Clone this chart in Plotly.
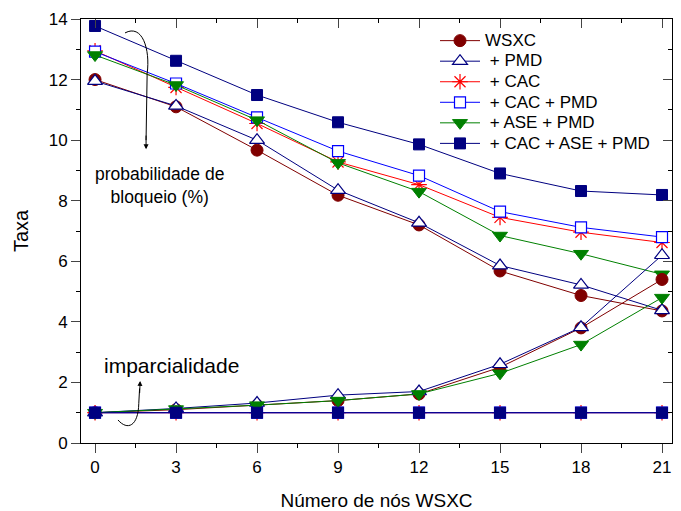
import plotly.graph_objects as go

x = [0, 3, 6, 9, 12, 15, 18, 21]
names = ["WSXC", "\u00a0+ PMD", "\u00a0+ CAC", "\u00a0+ CAC + PMD", "\u00a0+ ASE + PMD", "\u00a0+ CAC + ASE + PMD"]

# probabilidade de bloqueio (%)
bloq_wsxc = [12.0, 11.1, 9.67, 8.18, 7.2, 5.68, 4.87, 4.36]
bloq_pmd = [11.95, 11.13, 10.0, 8.35, 7.27, 5.86, 5.22, 4.38]
bloq_cac = [12.95, 11.74, 10.55, 9.28, 8.53, 7.45, 6.96, 6.62]
bloq_cac_pmd = [12.92, 11.87, 10.75, 9.64, 8.83, 7.64, 7.12, 6.8]
bloq_ase_pmd = [12.81, 11.82, 10.66, 9.25, 8.3, 6.85, 6.25, 5.57]
bloq_cac_ase_pmd = [13.77, 12.62, 11.49, 10.59, 9.86, 8.9, 8.32, 8.19]

# imparcialidade
imp_wsxc = [1.0, 1.1, 1.25, 1.4, 1.62, 2.5, 3.8, 5.4]
imp_pmd = [1.0, 1.14, 1.32, 1.58, 1.7, 2.6, 3.82, 6.2]
imp_cac = [1.0, 1.0, 1.0, 1.0, 1.0, 1.0, 1.0, 1.0]
imp_cac_pmd = [1.0, 1.0, 1.0, 1.0, 1.0, 1.0, 1.0, 1.0]
imp_ase_pmd = [1.0, 1.12, 1.25, 1.4, 1.62, 2.3, 3.25, 4.8]
imp_cac_ase_pmd = [1.0, 1.0, 1.0, 1.0, 1.0, 1.0, 1.0, 1.0]

y_ticks = [0, 2, 4, 6, 8, 10, 12, 14]

bloq = [bloq_wsxc, bloq_pmd, bloq_cac, bloq_cac_pmd, bloq_ase_pmd, bloq_cac_ase_pmd]
imp = [imp_wsxc, imp_pmd, imp_cac, imp_cac_pmd, imp_ase_pmd, imp_cac_ase_pmd]

styles = [
    dict(color="#800000", marker=dict(symbol="circle", size=12, color="#800000", line=dict(color="#800000", width=1))),
    dict(color="#000080", marker=dict(symbol="triangle-up", size=13, color="white", line=dict(color="#000080", width=1.2))),
    dict(color="#FF0000", marker=dict(symbol="asterisk-open", size=13, color="#FF0000", line=dict(color="#FF0000", width=1.2))),
    dict(color="#0000FF", marker=dict(symbol="square", size=11, color="white", line=dict(color="#0000FF", width=1.2))),
    dict(color="#008000", marker=dict(symbol="triangle-down", size=13, color="#008000", line=dict(color="#008000", width=1))),
    dict(color="#000080", marker=dict(symbol="square", size=11, color="#000080", line=dict(color="#000080", width=1))),
]

fig = go.Figure()
for i, nm in enumerate(names):
    st = styles[i]
    fig.add_trace(go.Scatter(x=x, y=bloq[i], name='<span style="font-size:17px">' + nm + '</span>',
                             mode="lines+markers", legendgroup=str(i),
                             line=dict(color=st["color"], width=1), marker=st["marker"]))
for i, nm in enumerate(names):
    st = styles[i]
    fig.add_trace(go.Scatter(x=x, y=imp[i], name=nm, mode="lines+markers", legendgroup=str(i), showlegend=False,
                             xaxis="x2", yaxis="y2",
                             line=dict(color=st["color"], width=1), marker=st["marker"]))

font = "Liberation Sans, Arial, sans-serif"
xr = [-0.52, 21.37]
yr = [0, 14]

fig.update_layout(
    width=673, height=503,
    margin=dict(l=73, r=9, t=11, b=68, autoexpand=False),
    paper_bgcolor="white", plot_bgcolor="white",
    font=dict(family=font, size=17, color="black"),
    showlegend=True,
    legend=dict(x=0.599, y=0.985, xanchor="left", yanchor="top", bgcolor="rgba(0,0,0,0)",
                font=dict(size=13.5, family=font), tracegroupgap=0, itemwidth=40),
    xaxis=dict(range=xr, tickvals=x, ticks="outside", ticklen=9, tickwidth=1, showgrid=False, zeroline=False,
               showline=True, linecolor="black", linewidth=1, tickfont=dict(size=17), automargin=False,
               minor=dict(ticks="outside", dtick=1.5, tick0=0, ticklen=4, tickcolor="black"),
               title=dict(text="Número de nós WSXC", font=dict(size=19), standoff=20)),
    yaxis=dict(range=yr, tickvals=y_ticks, ticks="outside", ticklen=9, tickwidth=1,
               showgrid=False, zeroline=False, showline=True, linecolor="black", linewidth=1,
               tickfont=dict(size=17), automargin=False,
               minor=dict(ticks="outside", dtick=1, tick0=0, ticklen=4, tickcolor="black"),
               title=dict(text="Taxa", font=dict(size=20), standoff=14)),
    xaxis2=dict(range=xr, overlaying="x", side="top", tickvals=x, ticks="inside", ticklen=9, showticklabels=False,
                showgrid=False, zeroline=False, showline=True, linecolor="black", linewidth=1, automargin=False,
                minor=dict(ticks="inside", dtick=1.5, tick0=0, ticklen=4, tickcolor="black")),
    yaxis2=dict(range=yr, overlaying="y", side="right", tickvals=y_ticks, ticks="inside",
                ticklen=9, showticklabels=False, showgrid=False, zeroline=False, showline=True,
                linecolor="black", linewidth=1, automargin=False,
                minor=dict(ticks="inside", dtick=1, tick0=0, ticklen=4, tickcolor="black")),
)

# curved arrows
fig.add_shape(type="path", xref="x", yref="y",
              path="M 1.11,13.54 C 1.75,13.85 2.05,13.0 1.93,12.2 L 1.89,10.0",
              line=dict(color="black", width=1))
fig.add_annotation(x=1.89, y=9.7, ax=1.89, ay=10.2, xref="x", yref="y", axref="x", ayref="y",
                   showarrow=True, arrowhead=2, arrowsize=1, arrowwidth=1, arrowcolor="black", text="")
fig.add_shape(type="path", xref="x", yref="y",
              path="M 0.85,0.76 C 1.2,0.4 1.6,0.55 1.62,1.3 L 1.65,1.8",
              line=dict(color="black", width=1))
fig.add_annotation(x=1.67, y=2.05, ax=1.65, ay=1.6, xref="x", yref="y", axref="x", ayref="y",
                   showarrow=True, arrowhead=2, arrowsize=1, arrowwidth=1, arrowcolor="black", text="")

fig.add_annotation(x=2.4, y=8.5, xref="x", yref="y", text="probabilidade de<br>bloqueio (%)",
                   showarrow=False, font=dict(size=17.5, family=font))
fig.add_annotation(x=2.85, y=2.55, xref="x", yref="y", text="imparcialidade",
                   showarrow=False, font=dict(size=21, family=font))

fig.write_html("out.html")
